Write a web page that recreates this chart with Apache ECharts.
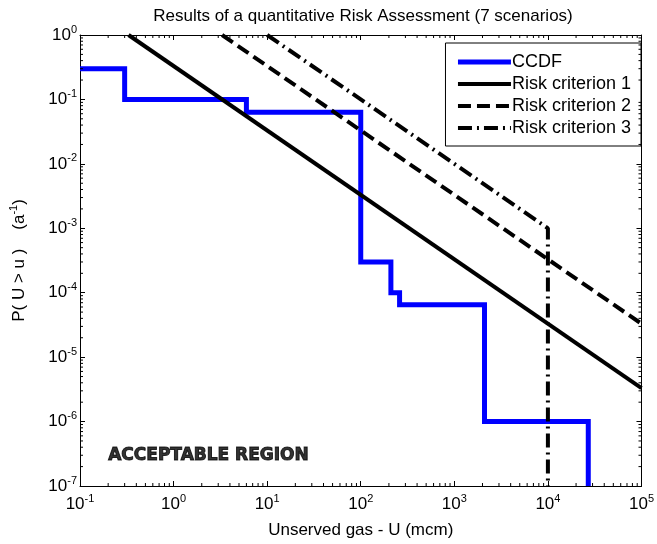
<!DOCTYPE html>
<html>
<head>
<meta charset="utf-8">
<script src="https://cdn.jsdelivr.net/npm/echarts@6/dist/echarts.min.js"></script>
<style>html,body{margin:0;padding:0;background:#fff}#c{width:657px;height:544px}</style>
</head>
<body>
<div id="c"></div>
<script>
// ---- data ----
const titleText = 'Results of a quantitative Risk Assessment (7 scenarios)';
const ccdf = [[0.1,0.3],[0.3,0.3],[0.3,0.1],[6,0.1],[6,0.063],[100,0.063],[100,3e-4],[210,3e-4],[210,1e-4],[260,1e-4],[260,6.5e-5],[2100,6.5e-5],[2100,1e-6],[27000,1e-6],[27000,1e-7]];
const risk1 = [[0.33,1],[1e5,3.3e-6]];
const risk2 = [[3.3,1],[1e5,3.3e-5]];
const risk3 = [[10,1],[1e4,1e-3],[1e4,1e-7]];
const seriesNames = ['CCDF','Risk criterion 1','Risk criterion 2','Risk criterion 3'];
const xMin = 0.1, xMax = 1e5, yMin = 1e-7, yMax = 1;
const regionLabel = 'ACCEPTABLE REGION';
const regionPos = [0.2, 3e-7];

// minor tick values (2..9 per decade)
const xMinor = [], yMinor = [];
for (let e = -1; e < 5; e++) for (let m = 2; m <= 9; m++) xMinor.push(m * Math.pow(10, e));
for (let e = -7; e < 0; e++) for (let m = 2; m <= 9; m++) yMinor.push(m * Math.pow(10, e));

const supFmt = v => '{b|10}{s|' + Math.round(Math.log10(v)) + '}';
const FONT = 'Liberation Sans';
const labRich = {
  b: {fontSize: 17, fontFamily: FONT, color: '#000'},
  s: {fontSize: 11, fontFamily: FONT, color: '#000', padding: [0,0,11,0]}
};
const lineStyles = [
  {color: '#0000ff', width: 5, type: 'solid'},
  {color: '#000', width: 4, type: 'solid'},
  {color: '#000', width: 4, type: [13, 6]},
  {color: '#000', width: 4, type: [14, 5, 2, 5]}
];

const chart = echarts.init(document.getElementById('c'), null, {renderer: 'canvas'});
const tickLen = 5, minorLen = 3;
chart.setOption({
  animation: false,
  backgroundColor: '#fff',
  title: {text: titleText, left: 358, textAlign: 'center', top: 3,
    textStyle: {fontSize: 17, fontWeight: 'normal', fontFamily: FONT, color: '#000'}},
  grid: {left: 73, right: 12, top: 35, bottom: 57},
  legend: {
    data: seriesNames.map((n, i) => ({name: n, lineStyle: lineStyles[i]})),
    orient: 'vertical', right: 16, top: 43,
    itemWidth: 53, itemHeight: 18, itemGap: 4,
    backgroundColor: '#fff', borderColor: '#000', borderWidth: 1, borderRadius: 0,
    padding: [10, 10, 9, 10],
    itemStyle: {opacity: 0},
    textStyle: {fontSize: 18, fontFamily: FONT, color: '#000', padding: [0,0,0,-4]}
  },
  xAxis: [{
    type: 'log', min: xMin, max: xMax, logBase: 10,
    name: 'Unserved gas - U (mcm)', nameLocation: 'middle', nameGap: 36,
    nameTextStyle: {fontSize: 17, fontFamily: FONT, color: '#000'},
    axisLine: {lineStyle: {color: '#000', width: 1}},
    axisTick: {inside: true, length: tickLen, lineStyle: {color: '#000'}},
    axisLabel: {formatter: supFmt, rich: labRich, margin: 7},
    splitLine: {show: false}, minorTick: {show: false}
  }, {
    type: 'log', min: xMin, max: xMax, position: 'top',
    axisLine: {lineStyle: {color: '#000', width: 1}},
    axisTick: {inside: true, length: tickLen, lineStyle: {color: '#000'}},
    axisLabel: {show: false}, splitLine: {show: false}
  }],
  yAxis: [{
    type: 'log', min: yMin, max: yMax, logBase: 10,
    name: 'P( U > u )    (a{s|-1})', nameLocation: 'middle', nameGap: 50, nameRotate: 90,
    nameTextStyle: {fontSize: 17, fontFamily: FONT, color: '#000',
      rich: {s: {fontSize: 11, fontFamily: FONT, color: '#000', padding: [0,0,11,0]}}},
    axisLine: {lineStyle: {color: '#000', width: 1}},
    axisTick: {inside: true, length: tickLen, lineStyle: {color: '#000'}},
    axisLabel: {formatter: supFmt, rich: labRich, margin: 3},
    splitLine: {show: false}, minorTick: {show: false}
  }, {
    type: 'log', min: yMin, max: yMax, position: 'right',
    axisLine: {lineStyle: {color: '#000', width: 1}},
    axisTick: {inside: true, length: tickLen, lineStyle: {color: '#000'}},
    axisLabel: {show: false}, splitLine: {show: false}
  }],
  series: [
    {name: 'CCDF', type: 'line', data: ccdf, symbol: 'none', z: 3,
      lineStyle: Object.assign({join: 'miter'}, lineStyles[0]), itemStyle: {color: '#0000ff'}},
    {name: 'Risk criterion 1', type: 'line', data: risk1, symbol: 'none', z: 4,
      lineStyle: lineStyles[1], itemStyle: {color: '#000'}},
    {name: 'Risk criterion 2', type: 'line', data: risk2, symbol: 'none', z: 4,
      lineStyle: lineStyles[2], itemStyle: {color: '#000'}},
    {name: 'Risk criterion 3', type: 'line', data: risk3, symbol: 'none', z: 4,
      lineStyle: lineStyles[3], itemStyle: {color: '#000'}},
    {name: 'xminor', type: 'custom', silent: true, z: 5,
      data: xMinor.map(v => [v, 1]),
      renderItem: function (params, api) {
        const p = api.coord([api.value(0), 1]);
        const cs = params.coordSys;
        return {type: 'group', children: [
          {type: 'line', shape: {x1: p[0], y1: cs.y + cs.height, x2: p[0], y2: cs.y + cs.height - minorLen}, style: {stroke: '#000', lineWidth: 1}},
          {type: 'line', shape: {x1: p[0], y1: cs.y, x2: p[0], y2: cs.y + minorLen}, style: {stroke: '#000', lineWidth: 1}}
        ]};
      }},
    {name: 'yminor', type: 'custom', silent: true, z: 5,
      data: yMinor.map(v => [1, v]),
      renderItem: function (params, api) {
        const p = api.coord([1, api.value(1)]);
        const cs = params.coordSys;
        return {type: 'group', children: [
          {type: 'line', shape: {x1: cs.x, y1: p[1], x2: cs.x + minorLen, y2: p[1]}, style: {stroke: '#000', lineWidth: 1}},
          {type: 'line', shape: {x1: cs.x + cs.width, y1: p[1], x2: cs.x + cs.width - minorLen, y2: p[1]}, style: {stroke: '#000', lineWidth: 1}}
        ]};
      }},
    {name: 'region', type: 'scatter', silent: true, symbolSize: 0, data: [regionPos],
      label: {show: true, position: 'right', distance: 0, formatter: regionLabel,
        fontFamily: 'DejaVu Sans', fontWeight: 'bold', fontSize: 17, color: '#000',
        textBorderColor: '#000', textBorderWidth: 1}}
  ]
});
</script>
</body>
</html>
